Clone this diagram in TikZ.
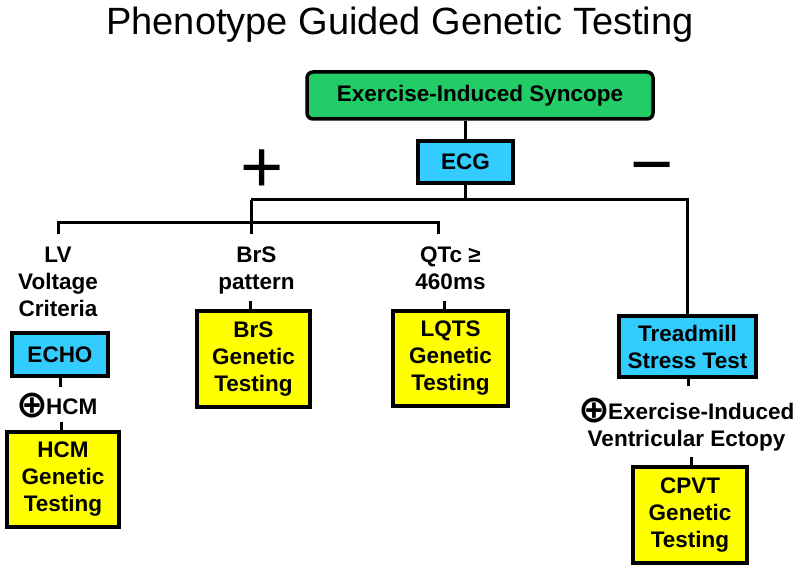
\documentclass[tikz,border=0pt]{standalone}
\usepackage{fontspec}
\setmainfont{Liberation Sans}
\newfontfamily\djv{DejaVu Sans}
\definecolor{grn}{RGB}{34,204,102}
\definecolor{cyn}{RGB}{51,204,255}
\definecolor{yel}{RGB}{255,255,0}
\newcommand{\cplus}{{\djv\bfseries\fontsize{38}{27}\selectfont\smash{\raisebox{-3.5pt}{⊕}}}\kern-2.5pt}
\begin{document}
\begin{tikzpicture}[x=1pt,y=-1pt,
  box/.style={draw=black, line width=3.5pt, align=center, inner sep=0pt,
    font=\bfseries\fontsize{22.5}{27}\selectfont},
  lab/.style={align=center, inner sep=0pt, anchor=north,
    font=\bfseries\fontsize{22.5}{27}\selectfont},
  conn/.style={draw=black, line width=3pt}]
\useasboundingbox (0,0) rectangle (800,569);

\node[anchor=base, inner sep=0pt, font=\fontsize{38}{38}\selectfont] (title) at (400,35) {Phenotype Guided Genetic Testing};

\node[box, fill=grn, rounded corners=6pt, minimum width=346pt, minimum height=47pt] (syn) at (480,95.5) {Exercise-Induced Syncope};
\node[box, fill=cyn, minimum width=95pt, minimum height=42pt] (ecg) at (465.5,162) {ECG};
\node[box, fill=cyn, minimum width=96pt, minimum height=43pt] (echo) at (60,354.5) {ECHO};
\node[box, fill=yel, minimum width=113pt, minimum height=96pt] (brs) at (253.5,359) {BrS\\Genetic\\Testing};
\node[box, fill=yel, minimum width=115pt, minimum height=95pt] (lqts) at (450.5,358.5) {LQTS\\Genetic\\Testing};
\node[box, fill=cyn, minimum width=137pt, minimum height=61pt] (tread) at (687.5,346.5) {Treadmill\\Stress Test};
\node[box, fill=yel, minimum width=112pt, minimum height=95pt] (hcm) at (63,479.5) {HCM\\Genetic\\Testing};
\node[box, fill=yel, minimum width=114pt, minimum height=96pt] (cpvt) at (690,515) {CPVT\\Genetic\\Testing};

\node[inner sep=0pt, font=\fontsize{74}{74}\selectfont] (plus) at (262,171) {+};
\node[inner sep=0pt, font=\fontsize{74}{74}\selectfont] (minus) at (652,176) {−};

\node[lab] (lv) at (58,247) {LV\\Voltage\\Criteria};
\node[lab] (brsl) at (256.5,247) {BrS\\pattern};
\node[lab] (qtc) at (450.5,247) {QTc ≥\\460ms};
\node[lab, anchor=base] (hcml) at (57,414) {\cplus HCM};
\node[lab, anchor=base] (exl) at (686.5,446) {\cplus Exercise-Induced\\Ventricular Ectopy};

% tree connectors
\coordinate (pj) at (251,200);
\coordinate (pk) at (251,223);
\coordinate (lvd) at (58,234);
\coordinate (brd) at (251,234);
\coordinate (qtd) at (438,234);
\draw[conn] (ecg.north |- syn.south) -- (ecg.north);
\draw[conn] (ecg.south) -- (ecg.south |- pj);
\draw[conn] (pj) -- (tread.north |- pj) -- (tread.north);
\draw[conn] (pj) -- (pk);
\draw[conn] (lvd) -- (lvd |- pk) -- (qtd |- pk) -- (qtd);
\draw[conn] (pk) -- (brd);

% label to box connectors
\coordinate (brsc) at (250,301);
\coordinate (qtcc) at (444,301);
\draw[conn] (brsc) -- (brsc |- brs.north);
\draw[conn] (qtcc) -- (qtcc |- lqts.north);
\coordinate (echoe) at (60,387);
\coordinate (hcmc) at (61,422);
\draw[conn] (echo.south -| echoe) -- (echoe);
\draw[conn] (hcmc) -- (hcmc |- hcm.north);
\coordinate (tre) at (688,386);
\coordinate (cpc) at (691,457);
\draw[conn] (tread.south -| tre) -- (tre);
\draw[conn] (cpc) -- (cpc |- cpvt.north);
\end{tikzpicture}
\end{document}
